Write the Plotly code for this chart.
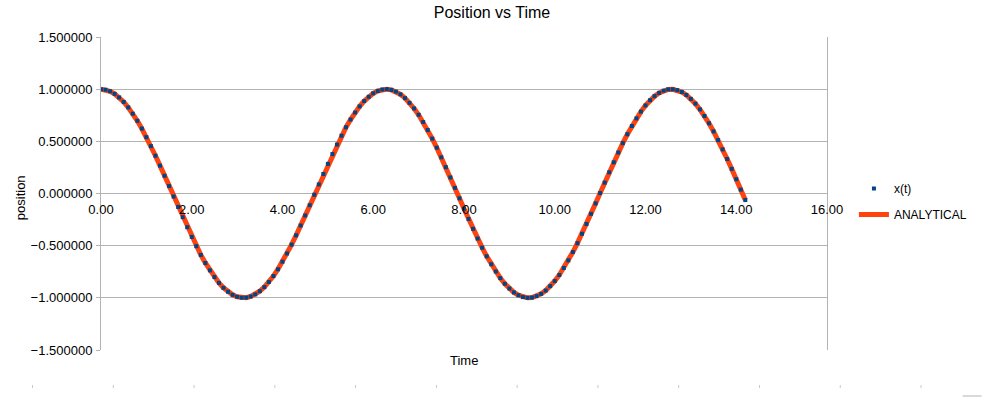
import plotly.graph_objects as go

time = [0.0, 0.1, 0.2, 0.3, 0.4, 0.5, 0.6, 0.7, 0.8, 0.9,
        1.0, 1.1, 1.2, 1.3, 1.4, 1.5, 1.6, 1.7, 1.8, 1.9,
        2.0, 2.1, 2.2, 2.3, 2.4, 2.5, 2.6, 2.7, 2.8, 2.9,
        3.0, 3.1, 3.2, 3.3, 3.4, 3.5, 3.6, 3.7, 3.8, 3.9,
        4.0, 4.1, 4.2, 4.3, 4.4, 4.5, 4.6, 4.7, 4.8, 4.9,
        5.0, 5.1, 5.2, 5.3, 5.4, 5.5, 5.6, 5.7, 5.8, 5.9,
        6.0, 6.1, 6.2, 6.3, 6.4, 6.5, 6.6, 6.7, 6.8, 6.9,
        7.0, 7.1, 7.2, 7.3, 7.4, 7.5, 7.6, 7.7, 7.8, 7.9,
        8.0, 8.1, 8.2, 8.3, 8.4, 8.5, 8.6, 8.7, 8.8, 8.9,
        9.0, 9.1, 9.2, 9.3, 9.4, 9.5, 9.6, 9.7, 9.8, 9.9,
        10.0, 10.1, 10.2, 10.3, 10.4, 10.5, 10.6, 10.7, 10.8, 10.9,
        11.0, 11.1, 11.2, 11.3, 11.4, 11.5, 11.6, 11.7, 11.8, 11.9,
        12.0, 12.1, 12.2, 12.3, 12.4, 12.5, 12.6, 12.7, 12.8, 12.9,
        13.0, 13.1, 13.2, 13.3, 13.4, 13.5, 13.6, 13.7, 13.8, 13.9,
        14.0, 14.1, 14.2]

x_numeric = [1.000, 0.995, 0.980, 0.955, 0.921, 0.878, 0.825, 0.765, 0.697, 0.622,
             0.540, 0.454, 0.362, 0.267, 0.170, 0.071, -0.029, -0.129, -0.227, -0.323,
             -0.416, -0.505, -0.589, -0.666, -0.737, -0.801, -0.857, -0.904, -0.942, -0.971,
             -0.990, -0.999, -0.998, -0.987, -0.967, -0.936, -0.897, -0.848, -0.791, -0.726,
             -0.654, -0.575, -0.490, -0.401, -0.307, -0.211, -0.112, -0.012, 0.087, 0.187,
             0.284, 0.378, 0.469, 0.554, 0.635, 0.709, 0.776, 0.835, 0.886, 0.927,
             0.960, 0.983, 0.997, 1.000, 0.993, 0.977, 0.950, 0.914, 0.869, 0.815,
             0.754, 0.685, 0.608, 0.526, 0.439, 0.347, 0.252, 0.154, 0.054, -0.046,
             -0.146, -0.244, -0.339, -0.432, -0.519, -0.602, -0.678, -0.748, -0.811, -0.865,
             -0.911, -0.948, -0.975, -0.993, -1.000, -0.997, -0.984, -0.962, -0.930, -0.888,
             -0.839, -0.781, -0.714, -0.641, -0.561, -0.476, -0.386, -0.292, -0.195, -0.095,
             0.004, 0.104, 0.203, 0.299, 0.393, 0.483, 0.568, 0.647, 0.720, 0.785,
             0.844, 0.894, 0.933, 0.964, 0.986, 0.998, 0.999, 0.991, 0.973, 0.944,
             0.907, 0.861, 0.806, 0.743, 0.673, 0.595, 0.512, 0.423, 0.331, 0.236,
             0.137, 0.037, -0.063]

x_analytical = list(x_numeric)

x_ticks = [0, 2, 4, 6, 8, 10, 12, 14, 16]
y_ticks = [-1.5, -1.0, -0.5, 0.0, 0.5, 1.0, 1.5]

W, H = 984, 403
L, R, T, B = 101, 829, 37, 350  # plot area, page px

def px_x(p):
    return (p - L) / (R - L)

def px_y(p):
    return (B - p) / (B - T)

FONT = "Liberation Sans, Arial, sans-serif"
GRID = "#b3b3b3"

fig = go.Figure()
fig.add_trace(go.Scatter(
    x=time, y=x_analytical, mode="lines", name="ANALYTICAL",
    line=dict(color="#ff420e", width=5), legendrank=2, legendgroup="b"))
fig.add_trace(go.Scatter(
    x=time, y=x_numeric, mode="markers", name="x(t)",
    marker=dict(color="#004586", size=4, symbol="square", line=dict(width=0)),
    legendrank=1, legendgroup="a"))

shapes = []
# stray page marks along the bottom
for k in range(12):
    xp = 32.3 + 81 * k
    shapes.append(dict(type="line", xref="paper", yref="paper",
                       x0=px_x(xp), x1=px_x(xp), y0=px_y(385), y1=px_y(388),
                       line=dict(color="#c8c8c8", width=1)))
shapes.append(dict(type="line", xref="paper", yref="paper",
                   x0=px_x(965), x1=px_x(984), y0=px_y(396), y1=px_y(396),
                   line=dict(color="#cccccc", width=1.5)))

fig.update_layout(
    width=W, height=H,
    margin=dict(l=L, r=W - R, t=T, b=H - B, pad=0),
    paper_bgcolor="white", plot_bgcolor="white",
    font=dict(family=FONT, size=13, color="#000000"),
    title=dict(text="Position vs Time", x=492 / W, xref="container",
               xanchor="center", y=1 - 12 / H, yref="container",
               yanchor="middle",
               font=dict(family=FONT, size=16, color="#000000")),
    showlegend=True,
    legend=dict(x=px_x(856), y=px_y(174), xanchor="left", yanchor="top",
                font=dict(family=FONT, size=12, color="#000000"),
                bgcolor="rgba(0,0,0,0)", tracegroupgap=7, traceorder="grouped"),
    xaxis=dict(range=[0, 16], tickvals=x_ticks, tickformat=".2f",
               showgrid=False, zeroline=False, showline=False, ticks="",
               anchor="free", position=0.5, ticklabelstandoff=6,
               tickfont=dict(family=FONT, size=13, color="#000000")),
    yaxis=dict(range=[-1.5, 1.5], tickvals=y_ticks, tickformat=".6f",
               showgrid=True, gridcolor=GRID, gridwidth=1, zeroline=False,
               showline=True, linecolor=GRID, linewidth=1, mirror=True,
               ticks="outside", ticklen=4, tickcolor=GRID, ticklabelstandoff=1,
               tickfont=dict(family=FONT, size=13, color="#000000")),
    shapes=shapes,
    annotations=[
        dict(text="Time", xref="paper", yref="paper", x=px_x(465), y=px_y(361),
             xanchor="center", yanchor="middle", showarrow=False,
             font=dict(family=FONT, size=13, color="#000000")),
        dict(text="position", xref="paper", yref="paper", x=px_x(20), y=px_y(198),
             xanchor="center", yanchor="middle", showarrow=False, textangle=-90,
             font=dict(family=FONT, size=13, color="#000000")),
    ],
)

fig.write_html("out.html",
               config={"displayModeBar": False},
               post_script="document.body.style.margin='0px';")
